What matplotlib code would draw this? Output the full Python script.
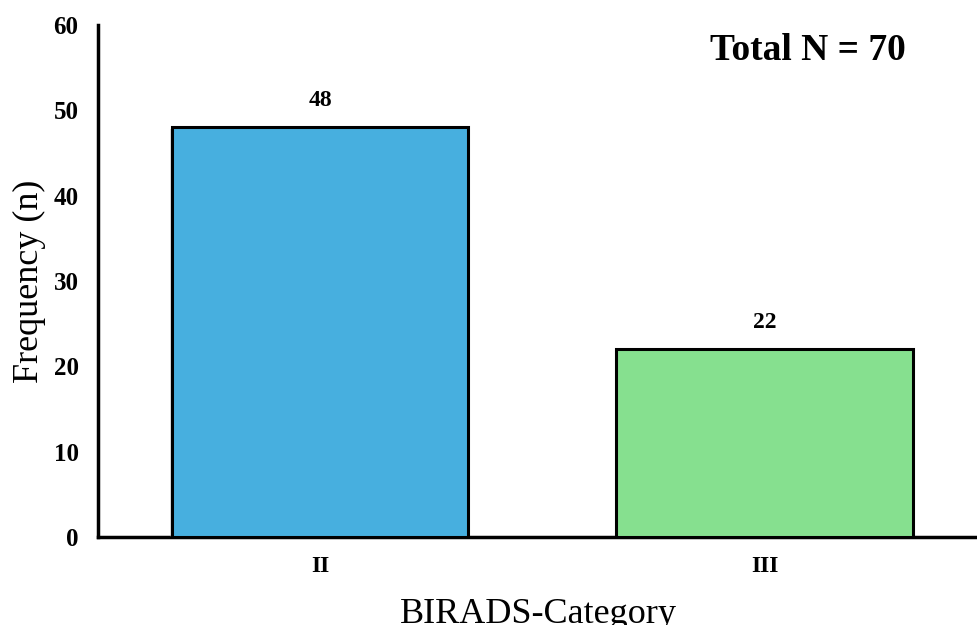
import matplotlib
matplotlib.use("Agg")
import matplotlib.pyplot as plt
import matplotlib.patheffects as pe

categories = ["II", "III"]
frequencies = [48, 22]
total_n = 70
bar_colors = ["#47AFDF", "#86E08F"]

plt.rcParams["font.family"] = ["Liberation Serif", "DejaVu Serif"]

fig = plt.figure(figsize=(9.78, 6.25), dpi=100)
ax = fig.add_axes([98 / 978, 1 - 537 / 625, 880 / 978, 512 / 625])

x = list(range(len(categories)))
bars = ax.bar(x, frequencies, width=0.667, color=bar_colors,
              edgecolor="black", linewidth=2.2, zorder=3)
for b in bars:
    b.set_path_effects([
        pe.SimplePatchShadow(offset=(-1.2, -1.2), shadow_rgbFace="0.5", alpha=0.25),
        pe.Normal(),
    ])

for xi, v in zip(x, frequencies):
    ax.text(xi, v + 1.9, str(v), ha="center", va="bottom",
            fontsize=17, fontweight="bold")

ax.set_xlim(-0.5, 1.48)
ax.set_ylim(0, 60)
ax.set_yticks(range(0, 61, 10))
ax.set_xticks(x)
ax.set_xticklabels(categories)
ax.tick_params(axis="y", length=0, labelsize=18, pad=14)
ax.tick_params(axis="x", length=0, labelsize=17, pad=14)
for lbl in ax.get_xticklabels() + ax.get_yticklabels():
    lbl.set_fontweight("bold")

for side in ("top", "right"):
    ax.spines[side].set_visible(False)
for side in ("left", "bottom"):
    ax.spines[side].set_linewidth(2.5)

ax.set_ylabel("Frequency (n)", fontsize=26, labelpad=5)
ax.set_xlabel("BIRADS-Category", fontsize=26, labelpad=15)

ax.text(0.918, 0.95, f"Total N = {total_n}", transform=ax.transAxes,
        ha="right", va="center", fontsize=27, fontweight="bold")

fig.savefig("out.png", dpi=100)
